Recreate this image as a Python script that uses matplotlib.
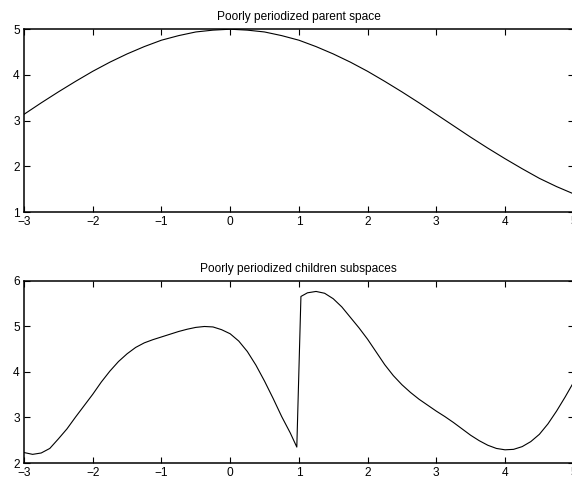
import matplotlib
matplotlib.use("Agg")
import matplotlib.pyplot as plt

# parent space curve
parent_x = [-3.0, -2.75, -2.5, -2.25, -2.0, -1.75, -1.5, -1.25, -1.0, -0.75,
            -0.5, -0.25, 0.0, 0.25, 0.5, 0.75, 1.0, 1.25, 1.5, 1.75, 2.0,
            2.25, 2.5, 2.75, 3.0, 3.25, 3.5, 3.75, 4.0, 4.25, 4.5, 4.75, 5.0]
parent_y = [3.14, 3.39, 3.63, 3.86, 4.08, 4.28, 4.46, 4.62, 4.76, 4.86,
            4.94, 4.98, 5.00, 4.98, 4.94, 4.86, 4.76, 4.62, 4.46, 4.28, 4.08,
            3.86, 3.63, 3.39, 3.14, 2.89, 2.64, 2.40, 2.17, 1.95, 1.74, 1.56, 1.40]

# children subspaces curve (left piece up to the jump, then right piece)
child_x = [-3.0, -2.875, -2.75, -2.625, -2.5, -2.375, -2.25, -2.125, -2.0,
           -1.875, -1.75, -1.625, -1.5, -1.375, -1.25, -1.125, -1.0, -0.875,
           -0.75, -0.625, -0.5, -0.375, -0.25, -0.125, 0.0, 0.125, 0.25,
           0.375, 0.5, 0.625, 0.75, 0.875, 0.97,
           1.03, 1.125, 1.25, 1.375, 1.5, 1.625, 1.75, 1.875, 2.0, 2.125,
           2.25, 2.375, 2.5, 2.625, 2.75, 2.875, 3.0, 3.125, 3.25, 3.375,
           3.5, 3.625, 3.75, 3.875, 4.0, 4.125, 4.25, 4.375, 4.5, 4.625,
           4.75, 4.875, 5.0]
child_y = [2.23, 2.19, 2.22, 2.32, 2.53, 2.75, 3.01, 3.26, 3.51,
           3.78, 4.02, 4.23, 4.40, 4.54, 4.64, 4.71, 4.77, 4.83,
           4.89, 4.94, 4.98, 5.00, 4.99, 4.93, 4.84, 4.68, 4.45,
           4.15, 3.80, 3.42, 3.02, 2.66, 2.35,
           5.66, 5.74, 5.77, 5.73, 5.61, 5.43, 5.20, 4.97, 4.72, 4.44,
           4.16, 3.92, 3.72, 3.55, 3.40, 3.27, 3.14, 3.02, 2.89, 2.75,
           2.61, 2.49, 2.39, 2.32, 2.29, 2.30, 2.36, 2.47, 2.63, 2.86,
           3.14, 3.45, 3.78]

x_ticks = [-3, -2, -1, 0, 1, 2, 3, 4, 5]
top_yticks = [1, 2, 3, 4, 5]
bottom_yticks = [2, 3, 4, 5, 6]

plt.rcParams["font.family"] = ["Liberation Sans", "DejaVu Sans"]

fig = plt.figure(figsize=(5.72, 4.79), dpi=100)


def style_axes(ax, yticks, title):
    ax.set_xlim(-3, 5)
    ax.set_ylim(yticks[0], yticks[-1])
    ax.set_xticks(x_ticks)
    ax.set_yticks(yticks)
    ax.tick_params(direction="in", length=4, width=0.8, top=True, right=True,
                   pad=3, labelsize=8.6)
    for s in ax.spines.values():
        s.set_linewidth(1.1)
    ax.set_title(title, fontsize=8.6, pad=6.5)


ax1 = fig.add_axes([0.042, 0.557, 0.961, 0.382])
ax1.plot(parent_x, parent_y, color="black", linewidth=0.8)
style_axes(ax1, top_yticks, "Poorly periodized parent space")

ax2 = fig.add_axes([0.042, 0.0334, 0.961, 0.380])
ax2.plot(child_x, child_y, color="black", linewidth=0.8)
style_axes(ax2, bottom_yticks, "Poorly periodized children subspaces")

fig.savefig("out.png", dpi=100)
